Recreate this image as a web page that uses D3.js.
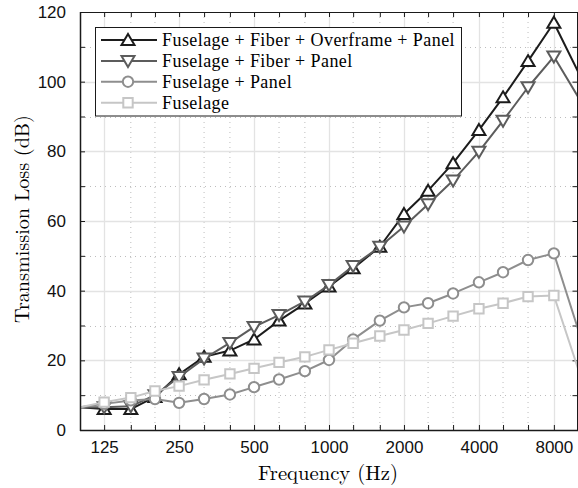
<!DOCTYPE html>
<html><head><meta charset="utf-8">
<script src="https://cdn.jsdelivr.net/npm/d3@7"></script>
<style>
html,body{margin:0;padding:0;background:#fff;}
svg{display:block;}
</style></head>
<body>
<svg id="chart" width="578" height="488"></svg>
<script>
// ---- data ----
const freqs = [100,125,160,200,250,315,400,500,630,800,1000,1250,1600,2000,2500,3150,4000,5000,6300,8000,10000];
const markerFreqs = [125,160,200,250,315,400,500,630,800,1000,1250,1600,2000,2500,3150,4000,5000,6300,8000];
const xTickLabels = [125,250,500,1000,2000,4000,8000];
const yTicks = [0,20,40,60,80,100,120];
const yMinorTicks = [10,30,50,70,90,110];
const seriesNames = ["Fuselage + Fiber + Overframe + Panel","Fuselage + Fiber + Panel","Fuselage + Panel","Fuselage"];
const fullStack = [6.5,6,6,9.5,16,21,22.8,26,31.4,36.3,41.2,46.4,52.6,62,68.7,76.6,86.1,95.5,105.9,116.9,102.9];
const fiberPanel = [6.5,6.5,6.8,10,15.2,20.5,25,29.6,33,36.9,41.6,47.1,52.6,58.4,64.8,71.6,79.9,88.8,98.4,107.2,95.7];
const fuselagePanel = [6.5,7.5,8.5,8.9,7.8,8.9,10.2,12.3,14.5,16.9,20.1,26,31.4,35.2,36.4,39.2,42.4,45.3,48.8,50.7,29];
const fuselage = [6.5,8,9.3,11.2,12.6,14.4,16.1,17.7,19.4,21,23,24.9,27,28.7,30.6,32.7,34.8,36.4,38.3,38.6,17.7];

const seriesValues = [fullStack, fiberPanel, fuselagePanel, fuselage];
const colors = ["#1c1c1c","#5c5c5c","#8e8e8e","#c6c6c6"];
const markers = ["triUp","triDown","circle","square"];

const SERIF = '"Latin Modern Roman"';
const LEGSERIF = '"Liberation Serif"';
const SANS = '"Liberation Sans"';

// ---- layout ----
const L = 80, R = 578, T = 12, B = 430;
const svg = d3.select("#chart");
const x = d3.scaleLog().domain([100,10000]).range([L,R]);
const y = d3.scaleLinear().domain([0,120]).range([B,T]);

svg.append("defs").append("clipPath").attr("id","clip")
  .append("rect").attr("x",L).attr("y",T).attr("width",R-L).attr("height",B-T);

// grid
const grid = svg.append("g");
const minorX = freqs.filter(f => !xTickLabels.includes(f) && f>100 && f<10000);
grid.selectAll(".gxm").data(minorX).join("line")
  .attr("x1",d=>x(d)).attr("x2",d=>x(d)).attr("y1",T).attr("y2",B)
  .attr("stroke","#bdbdbd").attr("stroke-width",1).attr("stroke-dasharray","1,4");
grid.selectAll(".gym").data(yMinorTicks).join("line")
  .attr("x1",L).attr("x2",R).attr("y1",d=>Math.round(y(d))+0.5).attr("y2",d=>Math.round(y(d))+0.5)
  .attr("stroke","#bdbdbd").attr("stroke-width",1).attr("stroke-dasharray","1,4");
grid.selectAll(".gx").data(xTickLabels).join("line")
  .attr("x1",d=>Math.round(x(d))+0.5).attr("x2",d=>Math.round(x(d))+0.5).attr("y1",T).attr("y2",B)
  .attr("stroke","#e3e3e3").attr("stroke-width",1.3);
grid.selectAll(".gy").data(yTicks.slice(1,-1)).join("line")
  .attr("x1",L).attr("x2",R).attr("y1",d=>Math.round(y(d))+0.5).attr("y2",d=>Math.round(y(d))+0.5)
  .attr("stroke","#e3e3e3").attr("stroke-width",1.3);

// axes
const xAxis = d3.axisBottom(x).tickValues(xTickLabels).tickFormat(d3.format("d")).tickSizeInner(-5).tickSizeOuter(0).tickPadding(14);
const gx = svg.append("g").attr("transform",`translate(0,${B})`).call(xAxis);
const gxMinor = svg.append("g").attr("transform",`translate(0,${B})`)
  .call(d3.axisBottom(x).tickValues(minorX).tickFormat("").tickSizeInner(-5).tickSizeOuter(0));
const gxTop = svg.append("g").attr("transform",`translate(0,${T})`)
  .call(d3.axisTop(x).tickValues(freqs.filter(f=>f>100&&f<10000)).tickFormat("").tickSizeInner(-5).tickSizeOuter(0));
const yAxis = d3.axisLeft(y).tickValues(yTicks).tickFormat(d3.format("d")).tickSizeInner(-5).tickSizeOuter(0).tickPadding(14);
const gy = svg.append("g").attr("transform",`translate(${L},0)`).call(yAxis);
const gyMinor = svg.append("g").attr("transform",`translate(${L},0)`)
  .call(d3.axisLeft(y).tickValues(yMinorTicks).tickFormat("").tickSizeInner(-5).tickSizeOuter(0));
const gyRight = svg.append("g").attr("transform",`translate(${R-0.5},0)`)
  .call(d3.axisRight(y).tickValues(yTicks.concat(yMinorTicks)).tickFormat("").tickSizeInner(-5).tickSizeOuter(0));
[gx,gxMinor,gxTop,gy,gyMinor,gyRight].forEach(g=>{
  g.attr("font-family",null).attr("font-size",null);
  g.selectAll("path.domain").remove();
  g.selectAll("line").attr("stroke","#1a1a1a").attr("stroke-width",1);
  g.selectAll("text").style("font-family",SANS).style("font-size","17px").attr("fill","#111");
});
gx.selectAll("text").attr("dy","0.55em");

// series
const symbolFor = (m) => {
  if (m==="triUp") return "M0,-6L6.5,5L-6.5,5Z";
  if (m==="triDown") return "M0,6L6.5,-5L-6.5,-5Z";
  if (m==="circle") return "M5.2,0A5.2,5.2 0 1,1 -5.2,0A5.2,5.2 0 1,1 5.2,0Z";
  return "M-4.7,-4.7H4.7V4.7H-4.7Z";
};
const plot = svg.append("g").attr("clip-path","url(#clip)");
const line = d3.line().x(d=>x(d.f)).y(d=>y(d.v));
seriesValues.forEach((vals,i)=>{
  const pts = freqs.map((f,j)=>({f, v: vals[j]}));
  plot.append("path").datum(pts).attr("d",line)
    .attr("fill","none").attr("stroke",colors[i]).attr("stroke-width",2).attr("stroke-linejoin","round");
  plot.selectAll(null).data(pts.filter(p=>markerFreqs.includes(p.f))).join("path")
    .attr("transform",d=>`translate(${x(d.f)},${y(d.v)})`)
    .attr("d",symbolFor(markers[i]))
    .attr("fill","#fff").attr("stroke",colors[i]).attr("stroke-width",2);
});

// box
svg.append("rect").attr("x",L+0.5).attr("y",T+0.5).attr("width",R-L-1).attr("height",B-T)
  .attr("fill","none").attr("stroke","#1a1a1a").attr("stroke-width",1);
svg.append("line").attr("x1",L).attr("x2",R).attr("y1",B+0.5).attr("y2",B+0.5).attr("stroke","#1a1a1a").attr("stroke-width",1.5);
svg.append("line").attr("x1",L+0.5).attr("x2",L+0.5).attr("y1",T).attr("y2",B+1).attr("stroke","#1a1a1a").attr("stroke-width",1.5);

// legend
const lg = svg.append("g");
lg.append("rect").attr("x",95.5).attr("y",27.5).attr("width",366).attr("height",88.5)
  .attr("fill","#fff").attr("stroke","#1a1a1a").attr("stroke-width",1);
const rowY = [40,61,81.7,102.7];
seriesNames.forEach((name,i)=>{
  lg.append("line").attr("x1",101).attr("x2",157).attr("y1",rowY[i]).attr("y2",rowY[i])
    .attr("stroke",colors[i]).attr("stroke-width",2);
  lg.append("path").attr("transform",`translate(128,${rowY[i]})`).attr("d",symbolFor(markers[i]))
    .attr("fill","#fff").attr("stroke",colors[i]).attr("stroke-width",2);
  lg.append("text").attr("class","lgtext").attr("x",162).attr("y",rowY[i]+5.8)
    .style("font-family",LEGSERIF).style("font-size","18px").attr("fill","#000").text(name);
});
// keep text boxes from overlapping between rows (row pitch ~21px), then fit width
const first = lg.select(".lgtext").node();
const bh = first.getBBox().height;
const fs = Math.min(18, 18 * 20.4 / bh);
lg.selectAll(".lgtext").style("font-size", fs + "px");
const extra = (293 - first.getComputedTextLength()) / seriesNames[0].length;
lg.selectAll(".lgtext").style("letter-spacing", extra + "px");

// axis labels
const xl = svg.append("text").attr("x",328).attr("y",480).attr("text-anchor","middle")
  .style("font-family",SERIF).style("font-size","20px").attr("fill","#000").text("Frequency (Hz)");
xl.style("font-size",(20*140/xl.node().getComputedTextLength())+"px");
const yl = svg.append("text").attr("transform","translate(29,219) rotate(-90)").attr("text-anchor","middle")
  .style("font-family",SERIF).style("font-size","20px").attr("fill","#000").text("Transmission Loss (dB)");
yl.style("font-size",(20*208/yl.node().getComputedTextLength())+"px");
</script>
</body></html>
